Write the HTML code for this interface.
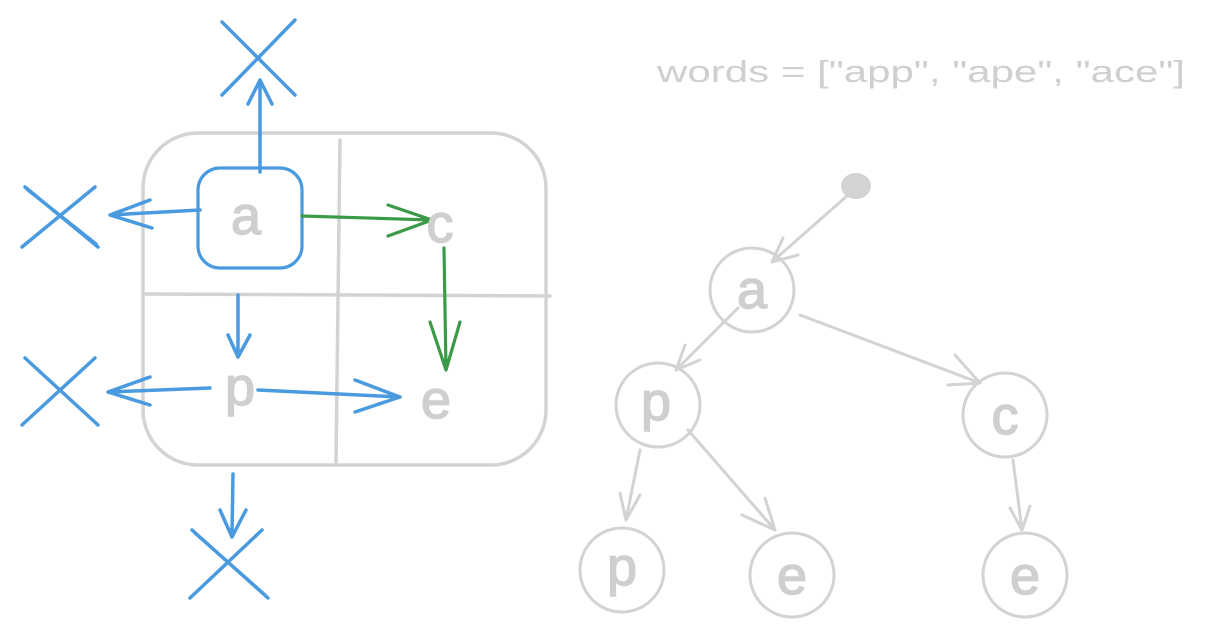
<!DOCTYPE html>
<html><head><style>
html,body{margin:0;padding:0;background:#fff;width:1208px;height:638px;overflow:hidden}
svg text{font-family:"Liberation Sans",sans-serif}
</style></head><body>
<svg width="1208" height="638" viewBox="0 0 1208 638" xmlns="http://www.w3.org/2000/svg">
<g fill="none" stroke-linecap="round" stroke-linejoin="round">
<rect x="143" y="133" width="403" height="332" rx="55" stroke="#d3d3d3" stroke-width="3.5"/>
<path d="M340 140 L336 462" stroke="#d3d3d3" stroke-width="3.5"/>
<path d="M143 294 L550 296" stroke="#d3d3d3" stroke-width="3.5"/>
<rect x="198" y="168" width="104" height="100" rx="22" stroke="#4a9ae0" stroke-width="3.2"/>
<g stroke="#4a9ae0" stroke-width="3.5">
<path d="M260 172 L260 80 M248 104 L260 80 L272 104"/>
<path d="M200 210 L110 215 M150 200 L110 215 L152 228"/>
<path d="M238 295 L238 355 M228 335 L238 357 L250 335"/>
<path d="M210 388 L108 392 M150 377 L108 392 L150 405"/>
<path d="M258 390 L400 397 M355 380 L400 397 L355 412"/>
<path d="M233 474 L232 535 M220 510 L232 537 L246 510"/>
<path d="M222 22 L295 95 M295 20 L222 95"/>
<path d="M25 187 L98 247 M95 187 L22 247 M28 190 L96 244"/>
<path d="M25 358 L98 425 M95 358 L22 425"/>
<path d="M192 530 L268 598 M262 530 L190 598 M195 533 L265 595"/>
</g>
<g stroke="#3b9a48" stroke-width="3.2">
<path d="M302 216 L432 220 M388 205 L432 220 L388 236"/>
<path d="M444 248 L446 370 M430 322 L446 370 L460 322"/>
</g>
<g stroke="#d3d3d3" stroke-width="3">
<circle cx="752" cy="290" r="42"/>
<circle cx="658" cy="405" r="42"/>
<circle cx="1005" cy="415" r="42"/>
<circle cx="622" cy="570" r="42"/>
<circle cx="792" cy="575" r="42"/>
<circle cx="1025" cy="575" r="42"/>
<path d="M848 195 L772 262 M783 238 L772 262 L798 255"/>
<path d="M738 308 L676 370 M685 345 L676 370 L700 360"/>
<path d="M800 315 L980 383 M955 355 L980 383 L948 385"/>
<path d="M640 450 L626 520 M620 493 L626 520 L640 495"/>
<path d="M688 430 L775 530 M742 515 L775 530 L765 498"/>
<path d="M1013 460 L1022 530 M1010 508 L1022 530 L1030 506"/>
</g>
</g>
<ellipse cx="856" cy="186" rx="15" ry="13" fill="#d3d3d3"/>
<g fill="#cfcfcf" font-size="54" text-anchor="middle" stroke="#cfcfcf" stroke-width="1.5">
<text x="246" y="234">a</text>
<text x="440" y="242">c</text>
<text x="240" y="405">p</text>
<text x="436" y="418">e</text>
<text x="752" y="308">a</text>
<text x="656" y="420">p</text>
<text x="1005" y="434">c</text>
<text x="622" y="585">p</text>
<text x="792" y="594">e</text>
<text x="1025" y="594">e</text>
</g>
<text x="657" y="82" fill="#cfcfcf" font-size="31" textLength="528" lengthAdjust="spacingAndGlyphs">words = ["app", "ape", "ace"]</text>
</svg>
</body></html>
